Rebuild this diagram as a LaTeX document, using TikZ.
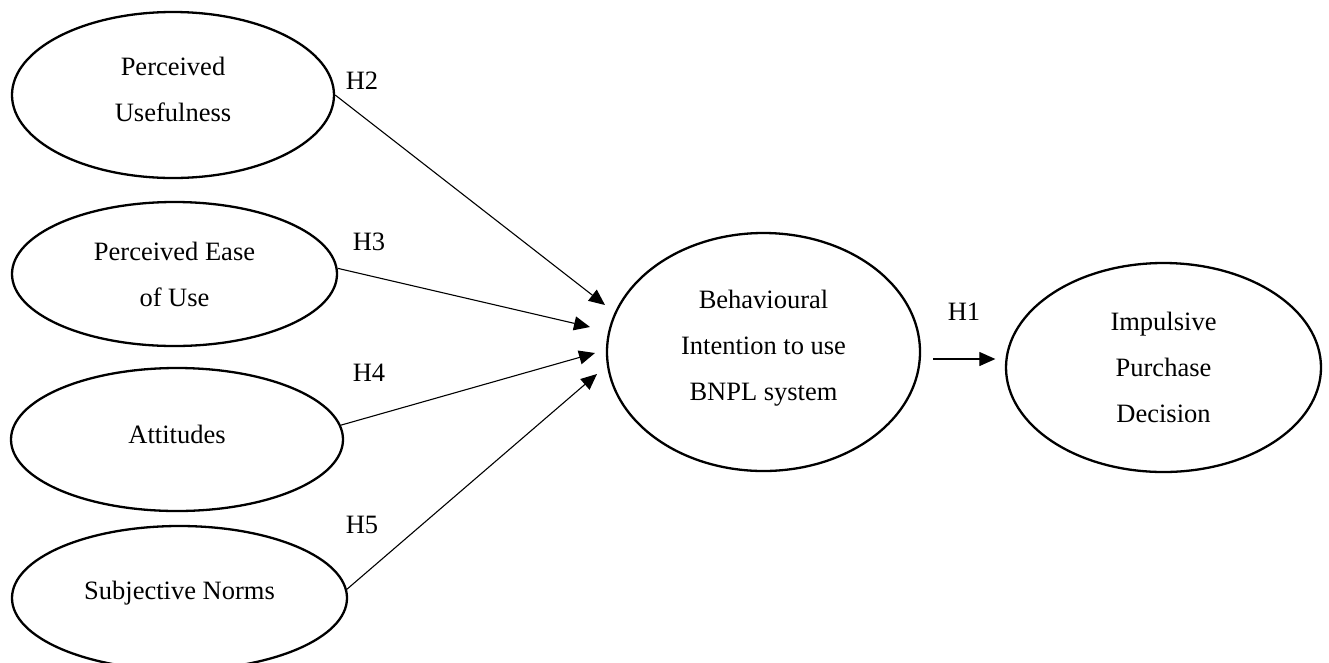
\documentclass[tikz,border=0pt]{standalone}
\usepackage{fontspec}
\setmainfont{Liberation Serif}
\usetikzlibrary{arrows.meta,calc,shapes.geometric}
\begin{document}
\begin{tikzpicture}[x=1pt,y=-1pt,
  oval/.style={draw=black, line width=2.3pt, ellipse, inner sep=0pt},
  txt/.style={font=\fontsize{26.5}{46}\selectfont, align=center, inner sep=0pt},
  arr/.style={draw=black, line width=1.1pt, -{Triangle[length=16pt,width=14pt]}},
  hlab/.style={font=\fontsize{26.5}{30}\selectfont, inner sep=0pt}]
\useasboundingbox (0,0) rectangle (1329,662);
\clip (0,0) rectangle (1329,662);
% left constructs
\node[oval, minimum width=322, minimum height=166,
  label={[txt,yshift=6pt]center:{Perceived\\Usefulness}}] (pu) at (173,95) {};
\node[oval, minimum width=325, minimum height=144,
  label={[txt]center:{Perceived Ease\\of Use}}] (pe) at (174.5,274) {};
\node[oval, minimum width=332, minimum height=143,
  label={[txt,yshift=5.5pt]center:{Attitudes}}] (at) at (177,439.5) {};
\node[oval, minimum width=335, minimum height=144,
  label={[txt,yshift=5pt]center:{Subjective Norms}}] (sn) at (179.5,598) {};
% central constructs
\node[oval, minimum width=313, minimum height=238,
  label={[txt,yshift=4pt]center:{Behavioural\\Intention to use\\BNPL system}}] (bi) at (763.5,352) {};
\node[oval, minimum width=315, minimum height=209,
  label={[txt]center:{Impulsive\\Purchase\\Decision}}] (ip) at (1163.5,367.5) {};
% arrow tips near the intention construct
\coordinate (t2) at (605,305);
\coordinate (t3) at (590,327);
\coordinate (t4) at (595,353);
\coordinate (t5) at (597,374);
% connectors
\draw[arr] (pu.east) -- (t2);
\draw[arr] (pe.2) -- (t3);
\draw[arr] (at.5) -- (t4);
\draw[arr] (sn.3) -- (t5);
\draw[arr] ($(bi.east)+(12,7)$) -- ($(ip.west)+(-9.5,-8.5)$);
% hypothesis labels
\node[hlab] (h2) at (362,81) {H2};
\node[hlab] (h3) at (369,242) {H3};
\node[hlab] (h4) at (369,373) {H4};
\node[hlab] (h5) at (362,525) {H5};
\node[hlab] (h1) at (964,312) {H1};
\end{tikzpicture}
\end{document}
